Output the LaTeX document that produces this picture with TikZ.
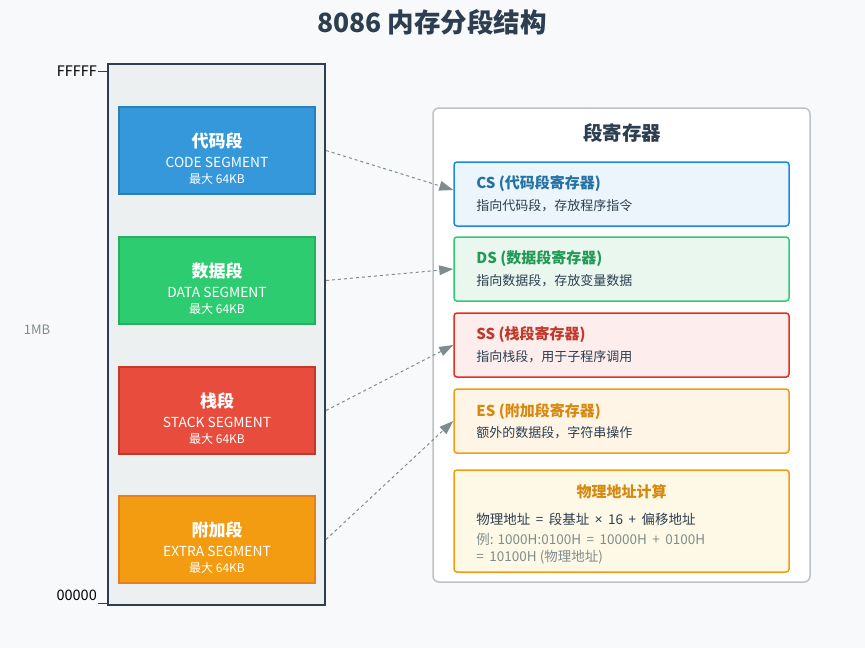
\documentclass[tikz,border=0pt]{standalone}
\usepackage{fontspec}
\setmainfont{Noto Sans CJK SC}
\newfontfamily\latinfont{Noto Sans}
\usepackage{tikz}
\usetikzlibrary{arrows.meta,positioning}
\definecolor{bgc}{HTML}{F8F9FA}
\definecolor{memfill}{HTML}{ECF0F1}
\definecolor{dark}{HTML}{2C3E50}
\definecolor{linkgray}{HTML}{7F8C8D}
\definecolor{panelline}{HTML}{BDC3C7}
\definecolor{codec}{HTML}{3498DB}
\definecolor{codeb}{HTML}{2980B9}
\definecolor{datac}{HTML}{2ECC71}
\definecolor{datab}{HTML}{27AE60}
\definecolor{stackc}{HTML}{E74C3C}
\definecolor{stackb}{HTML}{C0392B}
\definecolor{extrac}{HTML}{F39C12}
\definecolor{extrab}{HTML}{E67E22}
\definecolor{csfill}{HTML}{EBF5FB}
\definecolor{csline}{HTML}{1E88E5}
\definecolor{cstext}{HTML}{2471A3}
\definecolor{dsfill}{HTML}{E9F7EF}
\definecolor{dstext}{HTML}{229954}
\definecolor{ssfill}{HTML}{FDEDEC}
\definecolor{ssline}{HTML}{E0301E}
\definecolor{esfill}{HTML}{FEF5E7}
\definecolor{estext}{HTML}{D68910}
\definecolor{phfill}{HTML}{FEF9E7}
\newcommand{\gap}{\hspace{5.5pt}}

\begin{document}
\begin{tikzpicture}[x=1pt, y=-1pt]
    \tikzstyle{seg} = [draw, line width=1.2pt, minimum width=196pt, minimum height=87pt, inner sep=0pt]
    \tikzstyle{reg} = [draw, line width=1.5pt, rounded corners=3pt, minimum width=335pt, minimum height=64pt, inner sep=0pt]
    \tikzstyle{segname} = [text=white, font=\fontsize{17}{19}\selectfont\bfseries, inner sep=0pt]
    \tikzstyle{segeng} = [text=white, font=\fontsize{13.8}{15}\selectfont, inner sep=0pt]
    \tikzstyle{segmax} = [text=white, font=\fontsize{12}{14}\selectfont, inner sep=0pt]
    \tikzstyle{regname} = [anchor=west, font=\fontsize{15}{17}\selectfont\bfseries, inner sep=0pt]
    \tikzstyle{regdesc} = [anchor=west, text=dark, font=\fontsize{13}{15}\selectfont, inner sep=0pt]
    \tikzstyle{link} = [-{Stealth[length=14pt,width=10pt,inset=0pt,line width=0pt]}, color=linkgray, line width=1pt, dash pattern=on 3pt off 3pt]
    % background and title
    \fill[bgc] (0,0) rectangle (865,648);
    \node[text=dark, font=\fontsize{26.5}{30}\selectfont\bfseries] (title) at (432,22) {8086 内存分段结构};
    % memory
    \node[draw=dark, fill=memfill, line width=2pt, minimum width=217pt, minimum height=541pt] (mem) at (216.5,334.5) {};
    \coordinate (top) at (98,71);
    \coordinate (bottom) at (98,603);
    \draw[dark, line width=1pt] (top) -- (top -| mem.west);
    \draw[dark, line width=1pt] (bottom) -- (bottom -| mem.west);
    \node[anchor=east, text=black, font=\fontsize{14.5}{16}\selectfont, inner sep=1pt] (ffff) at (top) {FFFFF};
    \node[anchor=east, text=black, font=\fontsize{14.5}{16}\selectfont, inner sep=1pt] (zero) at (98,595) {00000};
    \node[text=linkgray, font=\fontsize{13}{15}\selectfont] (size) at (37,330) {1MB};
    % segments
    \node[seg, fill=codec, draw=codeb] (code) at (217,150.5) {};
    \node[segname] at ([yshift=10pt]code.center) {代码段};
    \node[segeng] at ([yshift=-11.5pt]code.center) {CODE SEGMENT};
    \node[segmax] at ([yshift=-28.5pt]code.center) {最大 64KB};
    \node[seg, fill=datac, draw=datab] (data) at (217,280.5) {};
    \node[segname] at ([yshift=10pt]data.center) {数据段};
    \node[segeng] at ([yshift=-11.5pt]data.center) {DATA SEGMENT};
    \node[segmax] at ([yshift=-28.5pt]data.center) {最大 64KB};
    \node[seg, fill=stackc, draw=stackb] (stack) at (217,410.5) {};
    \node[segname] at ([yshift=10pt]stack.center) {栈段};
    \node[segeng] at ([yshift=-11.5pt]stack.center) {STACK SEGMENT};
    \node[segmax] at ([yshift=-28.5pt]stack.center) {最大 64KB};
    \node[seg, fill=extrac, draw=extrab] (extra) at (217,539.5) {};
    \node[segname] at ([yshift=10pt]extra.center) {附加段};
    \node[segeng] at ([yshift=-11.5pt]extra.center) {EXTRA SEGMENT};
    \node[segmax] at ([yshift=-28.5pt]extra.center) {最大 64KB};
    % register panel
    \node[draw=panelline, fill=white, line width=1.5pt, rounded corners=6pt, minimum width=377pt, minimum height=474pt] (panel) at (621.5,345) {};
    \node[text=dark, font=\fontsize{19.5}{22}\selectfont\bfseries] (ptitle) at (622,133) {段寄存器};
    \node[reg, fill=csfill, draw=csline] (cs) at (621.5,194) {};
    \node[regname, text=cstext] at ([xshift=23pt, yshift=10pt]cs.west) {CS (代码段寄存器)};
    \node[regdesc] at ([xshift=23pt, yshift=-12pt]cs.west) {指向代码段，存放程序指令};
    \node[reg, fill=dsfill, draw=datac] (ds) at (621.5,269) {};
    \node[regname, text=dstext] at ([xshift=23pt, yshift=10pt]ds.west) {DS (数据段寄存器)};
    \node[regdesc] at ([xshift=23pt, yshift=-12pt]ds.west) {指向数据段，存放变量数据};
    \node[reg, fill=ssfill, draw=ssline] (ss) at (621.5,345) {};
    \node[regname, text=stackb] at ([xshift=23pt, yshift=10pt]ss.west) {SS (栈段寄存器)};
    \node[regdesc] at ([xshift=23pt, yshift=-12pt]ss.west) {指向栈段，用于子程序调用};
    \node[reg, fill=esfill, draw=extrac] (es) at (621.5,421) {};
    \node[regname, text=estext] at ([xshift=23pt, yshift=10pt]es.west) {ES (附加段寄存器)};
    \node[regdesc] at ([xshift=23pt, yshift=-12pt]es.west) {额外的数据段，字符串操作};
    % physical address
    \node[reg, fill=phfill, draw=extrac, minimum height=102pt] (phys) at (621.5,521) {};
    \node[text=estext, font=\fontsize{15}{17}\selectfont\bfseries, inner sep=0pt] at ([yshift=29pt]phys.center) {物理地址计算};
    \node[regdesc, font=\fontsize{13.5}{15}\selectfont] at ([xshift=23pt, yshift=2pt]phys.west) {物理地址\gap{}=\gap{}段基址\gap{}{\latinfont ×}\gap{}16\gap{}+\gap{}偏移地址};
    \node[regdesc, text=linkgray, align=left, font=\fontsize{13.5}{17}\selectfont] at ([xshift=23pt, yshift=-27.5pt]phys.west) {例: 1000H:0100H\gap{}=\gap{}10000H\gap{}+\gap{}0100H\\=\gap{}10100H (物理地址)};
    % links
    \draw[link] (code.east -| mem.east) -- ([yshift=4pt]cs.west);
    \draw[link] (data.east -| mem.east) -- (ds.west);
    \draw[link] (stack.east -| mem.east) -- (ss.west);
    \draw[link] (extra.east -| mem.east) -- (es.west);
\end{tikzpicture}
\end{document}
